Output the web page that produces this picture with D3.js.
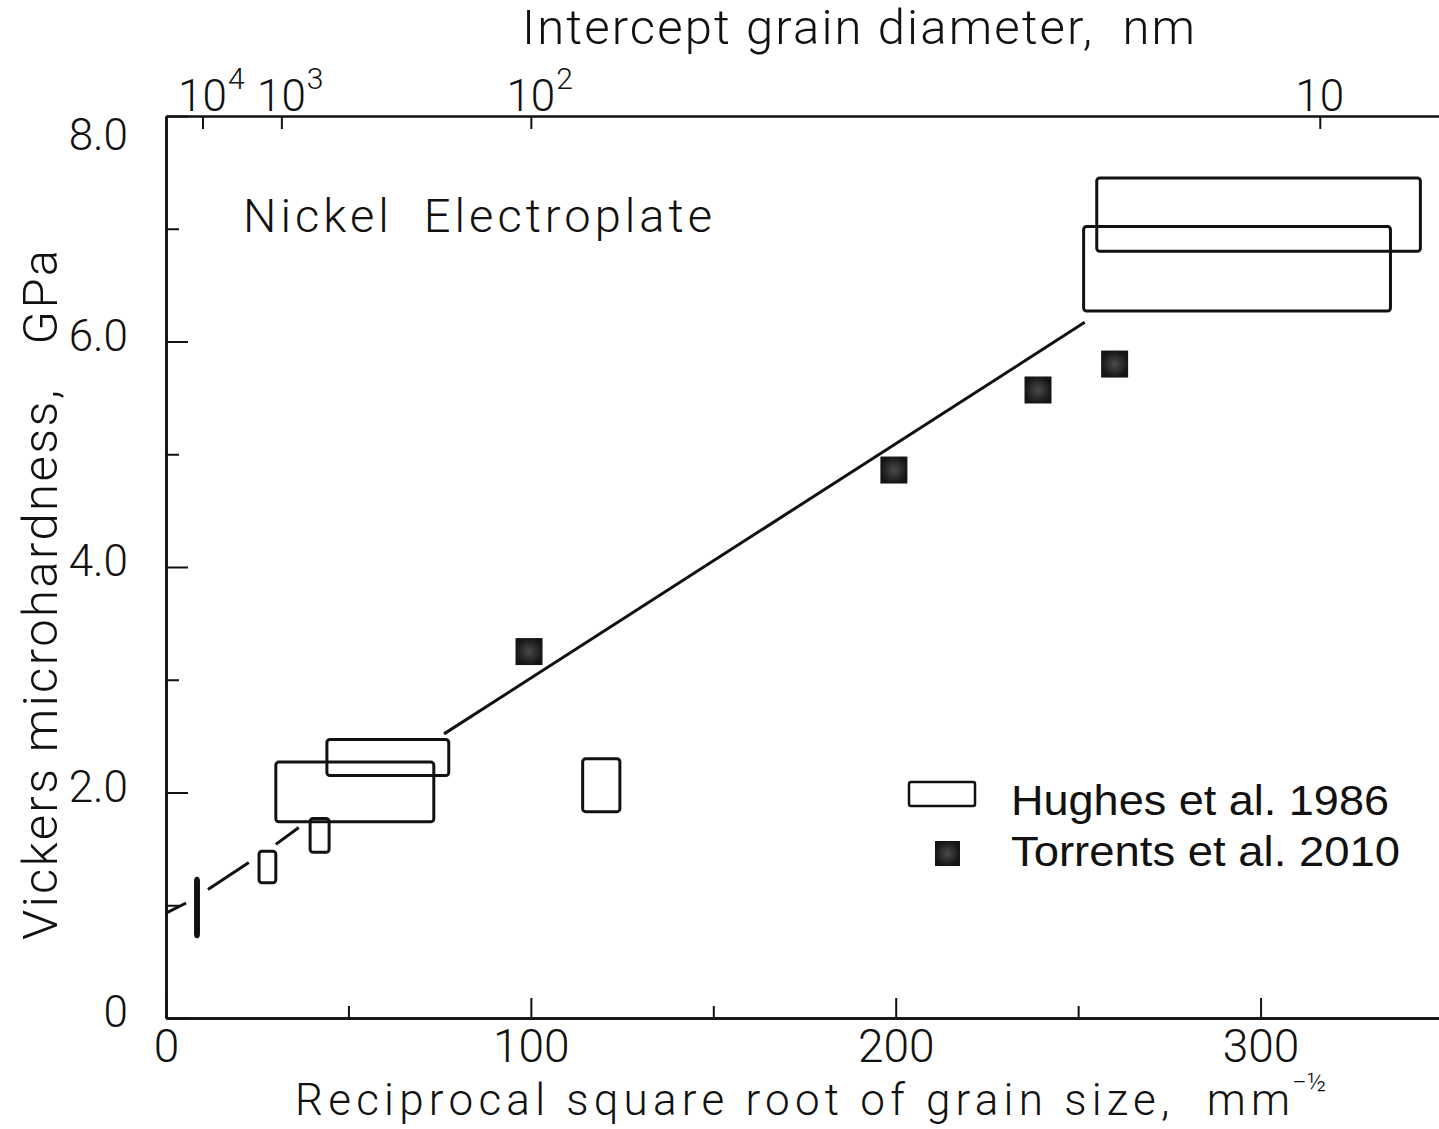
<!DOCTYPE html>
<html>
<head>
<meta charset="utf-8">
<script src="https://cdn.jsdelivr.net/npm/d3@7"></script>
<style>
  body { margin: 0; background: #fff; }
  svg { display: block; }
  .letter { font-family: Roboto, "Open Sans", "DejaVu Sans", sans-serif; font-weight: 300; fill: #111; }
  .axis path, .axis line { stroke: #111; }
  .axis text { font-family: Roboto, "Open Sans", "DejaVu Sans", sans-serif; font-weight: 300; fill: #111; }
  .legend text { font-family: "Liberation Sans", Arial, sans-serif; fill: #111; }
</style>
</head>
<body>
<script>
// values
var xTicksMajor = [0, 100, 200, 300],
    xTicksMinor = [50, 150, 250],
    yTicksMajor = [0, 2, 4, 6, 8],
    yTicksMinor = [1, 3, 5, 7],
    topTicksNm = [1e4, 1e3, 1e2, 10],
    topTickExp = ['4', '3', '2', ''];

// Hughes et al. 1986: [x0, x1, y0, y1]
var hughesBoxes = [
    [251.5, 335.6, 6.27, 7.02],
    [255.1, 343.8, 6.80, 7.45],
    [30.1, 73.4, 1.74, 2.27],
    [44.1, 77.5, 2.15, 2.47],
    [39.5, 44.7, 1.47, 1.77],
    [25.5, 30.1, 1.20, 1.48],
    [114.2, 124.4, 1.83, 2.30],
    [8.1, 8.9, 0.72, 1.24]
];

// Torrents et al. 2010
var torrentsX = [99.5, 199.5, 239, 260],
    torrentsY = [3.25, 4.86, 5.57, 5.80];

// fitted line: solid part and dashed extrapolation pieces
var fitSolid = [[76.2, 2.52], [251.8, 6.17]];
var fitDashed = [
    [[0, 0.93], [5.5, 1.02]],
    [[11.5, 1.14], [22.7, 1.38]],
    [[30.1, 1.54], [36.4, 1.69]]
];

var width = 1439, height = 1129;
var margin = {left: 166, top: 116, bottom: 1018};

var svg = d3.select('body').append('svg')
    .attr('width', width)
    .attr('height', height);

var x = d3.scaleLinear().domain([0, 350]).range([margin.left, 1443]);
var y = d3.scaleLinear().domain([0, 8]).range([margin.bottom, margin.top]);

// bottom axis
svg.append('g')
    .attr('class', 'axis')
    .attr('transform', 'translate(0,' + margin.bottom + ')')
    .call(d3.axisBottom(x).tickValues(xTicksMinor).tickSize(-12).tickSizeOuter(0).tickFormat(''));
svg.append('g')
    .attr('class', 'axis')
    .attr('transform', 'translate(0,' + margin.bottom + ')')
    .call(d3.axisBottom(x).tickValues(xTicksMajor).tickSize(-20).tickSizeOuter(0).tickPadding(11))
    .call(function(g) { g.selectAll('text').attr('font-size', 46); });

// left axis
svg.append('g')
    .attr('class', 'axis')
    .attr('transform', 'translate(' + margin.left + ',0)')
    .call(d3.axisLeft(y).tickValues(yTicksMinor).tickSize(-13).tickSizeOuter(0).tickFormat(''));
svg.append('g')
    .attr('class', 'axis')
    .attr('transform', 'translate(' + margin.left + ',0)')
    .call(d3.axisLeft(y).tickValues(yTicksMajor).tickSize(-22).tickSizeOuter(0).tickPadding(38)
        .tickFormat(function(d) { return d === 0 ? '0' : d.toFixed(1); }))
    .call(function(g) {
        g.selectAll('text')
            .attr('font-size', 44)
            .attr('dy', function(d) { return d === 8 ? '0.75em' : '0.2em'; });
    });

// top axis: intercept grain diameter in nm, x = 1/sqrt(d mm)
var topPos = topTicksNm.map(function(d) { return 1000 / Math.sqrt(d); });
svg.append('g')
    .attr('class', 'axis')
    .attr('transform', 'translate(0,' + margin.top + ')')
    .call(d3.axisTop(x).tickValues(topPos).tickSize(-13).tickSizeOuter(0).tickFormat(''));

topPos.forEach(function(v, i) {
    var base = svg.append('text')
        .attr('class', 'letter')
        .attr('x', x(v))
        .attr('y', margin.top - 5)
        .attr('text-anchor', 'middle')
        .attr('font-size', 44)
        .text('10');
    if (topTickExp[i]) {
        var bb = base.node().getBBox();
        svg.append('text')
            .attr('class', 'letter')
            .attr('x', bb.x + bb.width + 1)
            .attr('y', margin.top - 27)
            .attr('font-size', 30)
            .text(topTickExp[i]);
    }
});

svg.selectAll('.axis path').attr('stroke-width', 2.5);
svg.selectAll('.axis line').attr('stroke-width', 2);

// axis titles
svg.append('text')
    .attr('class', 'letter')
    .attr('x', 522)
    .attr('y', 44)
    .attr('font-size', 49)
    .attr('textLength', 673)
    .attr('lengthAdjust', 'spacing')
    .text('Intercept grain diameter,\u00a0\u00a0nm');

var xt = svg.append('text')
    .attr('class', 'letter')
    .attr('x', 295)
    .attr('y', 1115)
    .attr('font-size', 44)
    .attr('textLength', 995)
    .attr('lengthAdjust', 'spacing')
    .text('Reciprocal square root of grain size,\u00a0\u00a0mm');
var xtb = xt.node().getBBox();
svg.append('text')
    .attr('class', 'letter')
    .attr('x', xtb.x + xtb.width + 2)
    .attr('y', 1091)
    .attr('font-size', 26)
    .text('\u2212\u00bd');

svg.append('text')
    .attr('class', 'letter')
    .attr('transform', 'translate(57,940) rotate(-90)')
    .attr('font-size', 49)
    .attr('textLength', 690)
    .attr('lengthAdjust', 'spacing')
    .text('Vickers microhardness,\u00a0\u00a0\u00a0GPa');

svg.append('text')
    .attr('class', 'letter')
    .attr('x', 243)
    .attr('y', 232)
    .attr('font-size', 47)
    .attr('textLength', 469)
    .attr('lengthAdjust', 'spacing')
    .text('Nickel\u00a0\u00a0Electroplate');

// fitted line
var line = d3.line()
    .x(function(d) { return x(d[0]); })
    .y(function(d) { return y(d[1]); });

svg.append('path')
    .datum(fitSolid)
    .attr('d', line)
    .attr('fill', 'none')
    .attr('stroke', '#111')
    .attr('stroke-width', 3);

svg.selectAll('.dash')
    .data(fitDashed)
    .enter()
    .append('path')
    .attr('class', 'dash')
    .attr('d', line)
    .attr('fill', 'none')
    .attr('stroke', '#111')
    .attr('stroke-width', 3);

// Hughes boxes
svg.selectAll('.hbox')
    .data(hughesBoxes)
    .enter()
    .append('rect')
    .attr('class', 'hbox')
    .attr('x', function(d) { return x(d[0]); })
    .attr('y', function(d) { return y(d[3]); })
    .attr('width', function(d) { return x(d[1]) - x(d[0]); })
    .attr('height', function(d) { return y(d[2]) - y(d[3]); })
    .attr('rx', 3)
    .attr('fill', 'none')
    .attr('stroke', '#111')
    .attr('stroke-width', 3);

// Torrents squares
var grad = svg.append('defs').append('radialGradient').attr('id', 'sq');
grad.append('stop').attr('offset', '0%').attr('stop-color', '#4a4a4a');
grad.append('stop').attr('offset', '100%').attr('stop-color', '#151515');

var sq = 27;
svg.selectAll('.tsq')
    .data(torrentsX)
    .enter()
    .append('rect')
    .attr('class', 'tsq')
    .attr('x', function(d) { return x(d) - sq / 2; })
    .attr('y', function(d, i) { return y(torrentsY[i]) - sq / 2; })
    .attr('width', sq)
    .attr('height', sq)
    .attr('fill', 'url(#sq)');

// legend
var legend = svg.append('g').attr('class', 'legend');
legend.append('rect')
    .attr('x', 909).attr('y', 782)
    .attr('width', 66).attr('height', 24)
    .attr('rx', 2)
    .attr('fill', 'none')
    .attr('stroke', '#111')
    .attr('stroke-width', 2.5);
legend.append('rect')
    .attr('x', 935).attr('y', 841)
    .attr('width', 25).attr('height', 25)
    .attr('fill', 'url(#sq)');
legend.append('text')
    .attr('x', 1011).attr('y', 815)
    .attr('font-size', 42)
    .attr('textLength', 378)
    .attr('lengthAdjust', 'spacingAndGlyphs')
    .text('Hughes et al. 1986');
legend.append('text')
    .attr('x', 1011).attr('y', 866)
    .attr('font-size', 42)
    .attr('textLength', 389)
    .attr('lengthAdjust', 'spacingAndGlyphs')
    .text('Torrents et al. 2010');
</script>
</body>
</html>
